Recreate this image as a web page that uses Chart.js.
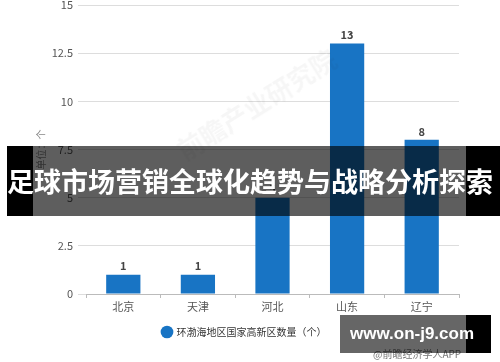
<!DOCTYPE html>
<html><head><meta charset="utf-8">
<script src="https://cdn.jsdelivr.net/npm/chart.js@4/dist/chart.umd.min.js"></script>
<style>
html,body{margin:0;padding:0;background:#fff;}
#wrap{position:relative;width:500px;height:362px;overflow:hidden;font-family:"Noto Sans CJK SC","Noto Sans",sans-serif;}
canvas{position:absolute;left:0;top:0;}
.wm{position:absolute;left:165px;top:85px;transform:rotate(-32deg);font-size:26px;font-weight:bold;color:rgba(0,0,0,0.035);white-space:nowrap;}
.band{position:absolute;left:7px;top:146px;width:493px;height:70px;background:rgba(0,0,0,0.63);}
.band .bl{position:absolute;left:0;top:0;width:26px;height:70px;background:#000;}
.band .br{position:absolute;left:459px;top:0;width:34px;height:70px;background:#000;}
.band .t{position:absolute;left:0;top:0;width:493px;height:70px;line-height:70px;color:#fff;font-weight:bold;font-size:27px;white-space:nowrap;}
.site{position:absolute;left:340px;top:315px;width:151px;height:38px;background:rgba(0,0,0,0.6);}
.site .br{position:absolute;left:126px;top:0;width:25px;height:38px;background:#000;}
.site .t{position:absolute;left:10px;top:0;height:38px;line-height:38px;color:#fff;font-weight:bold;font-size:17px;font-family:"Liberation Sans","Noto Sans",sans-serif;white-space:nowrap;}
.src{position:absolute;left:373px;top:346px;font-size:10px;color:#777;white-space:nowrap;}
</style></head>
<body>
<div id="wrap">
<canvas id="c" width="500" height="362"></canvas>
<div class="wm">前瞻产业研究院</div>
<div class="src">@前瞻经济学人APP</div>
<div class="band"><div class="bl"></div><div class="br"></div><div class="t">足球市场营销全球化趋势与战略分析探索</div></div>
<div class="site"><div class="br"></div><div class="t">www.on-j9.com</div></div>
</div>
<script>
const categories = ["北京", "天津", "河北", "山东", "辽宁"];
const seriesName = "环渤海地区国家高新区数量（个）";
const seriesValues = [1, 1, 5, 13, 8];
const yTicks = [0, 2.5, 5, 7.5, 10, 12.5, 15];
const yTitle = "单位：个";

const labelPlugin = {
  id: 'barLabels',
  afterDatasetsDraw(chart) {
    const ctx = chart.ctx;
    const meta = chart.getDatasetMeta(0);
    ctx.save();
    ctx.font = 'bold 11px "Noto Sans CJK SC", sans-serif';
    ctx.fillStyle = '#444';
    ctx.textAlign = 'center';
    ctx.textBaseline = 'bottom';
    meta.data.forEach((bar, i) => {
      ctx.fillText(String(seriesValues[i]), bar.x, bar.y - 3);
    });
    ctx.restore();
  }
};

new Chart(document.getElementById('c'), {
  type: 'bar',
  data: {
    labels: categories,
    datasets: [{
      label: seriesName,
      data: seriesValues,
      backgroundColor: '#1874c4',
      borderWidth: 0,
      barPercentage: 0.9,
      categoryPercentage: 0.51
    }]
  },
  options: {
    responsive: false,
    animation: false,
    devicePixelRatio: 1,
    layout: { padding: { top: 5, right: 41, left: 30, bottom: 15 } },
    plugins: {
      legend: {
        position: 'bottom',
        labels: {
          usePointStyle: true, pointStyle: 'circle', boxWidth: 9, boxHeight: 9,
          padding: 8, color: '#333',
          font: { size: 10, family: '"Noto Sans CJK SC", sans-serif' }
        }
      },
      tooltip: { enabled: false }
    },
    scales: {
      x: {
        grid: { display: true, drawOnChartArea: false, drawTicks: true, tickLength: 4, color: '#bbb' },
        border: { display: true, color: '#bbb' },
        ticks: { color: '#555', font: { size: 11, family: '"Noto Sans CJK SC", sans-serif' }, padding: 2 },
        afterFit(s) { s.height = 25; }
      },
      y: {
        min: 0, max: 15,
        afterBuildTicks(s) { s.ticks = yTicks.map(v => ({ value: v })); },
        grid: { color: '#ddd', tickLength: 8 },
        border: { display: false },
        ticks: { color: '#555', padding: 5, font: { size: 11, family: '"Noto Sans CJK SC", sans-serif' } },
        title: { display: true, text: yTitle, color: '#888', font: { size: 10, family: '"Noto Sans CJK SC", sans-serif' }, padding: { top: 5, bottom: 0 } },
        afterFit(s) { s.width = 56; s.paddingTop = 0; s.paddingBottom = 0; }
      }
    }
  },
  plugins: [labelPlugin]
});
</script>
</body></html>
